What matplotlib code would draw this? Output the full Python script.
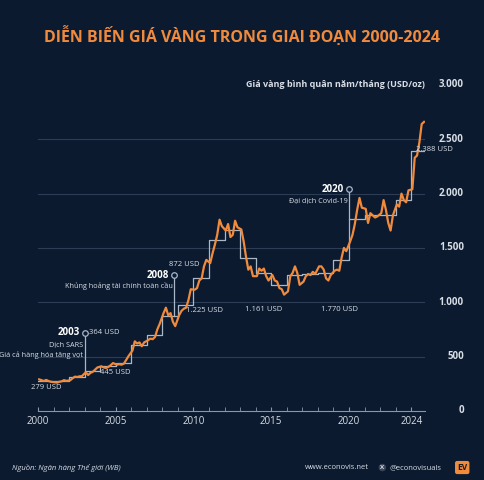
import numpy as np
import matplotlib.pyplot as plt

plt.rcParams['font.family'] = ['Open Sans', 'DejaVu Sans']

BG = '#0b1a2f'
ORANGE = '#f08a3c'
STEP = '#a9b8c8'
TXT = '#d8dee6'

years = list(range(2000, 2025))
annual = [279, 271, 310, 364, 409, 445, 604, 697, 872, 972, 1225, 1572, 1669,
          1411, 1266, 1161, 1251, 1257, 1269, 1393, 1770, 1799, 1800, 1943, 2388]

# approx. bi-monthly prices
monthly = [
    290, 283, 275, 285, 275, 268,
    263, 260, 268, 272, 283, 276,
    282, 300, 315, 312, 318, 320,
    355, 330, 350, 360, 380, 400,
    410, 400, 395, 405, 420, 440,
    425, 430, 425, 435, 470, 505,
    555, 640, 620, 630, 595, 630,
    650, 665, 660, 680, 750, 800,
    900, 950, 880, 900, 820, 780,
    880, 920, 940, 950, 1020, 1120,
    1115, 1130, 1200, 1220, 1330, 1390,
    1360, 1450, 1530, 1620, 1760, 1700,
    1660, 1720, 1600, 1620, 1750, 1690,
    1670, 1560, 1420, 1300, 1330, 1240,
    1240, 1310, 1290, 1310, 1240, 1200,
    1250, 1200, 1190, 1130, 1120, 1070,
    1100, 1240, 1270, 1330, 1270, 1160,
    1190, 1240, 1260, 1250, 1280, 1260,
    1330, 1330, 1300, 1220, 1200, 1250,
    1290, 1300, 1290, 1410, 1500, 1470,
    1560, 1620, 1720, 1850, 1960, 1870,
    1860, 1730, 1820, 1800, 1780, 1790,
    1820, 1940, 1850, 1730, 1660, 1800,
    1900, 1880, 2000, 1940, 1920, 2030,
    2040, 2330, 2350, 2470, 2640, 2660,
]
mx = [y + (i + 0.5) / 6 * 0.9 for y in years for i in range(6)]

fig = plt.figure(figsize=(4.84, 4.8), dpi=100, facecolor=BG)
ax = fig.add_axes([0.0785, 0.144, 0.80, 0.679], facecolor=BG)
ax.set_xlim(2000, 2024.9)
ax.set_ylim(0, 3000)

for v in [500, 1000, 1500, 2000, 2500]:
    ax.axhline(v, color='#2c3d55', lw=0.8, zorder=0)
    ax.text(1.1, v, f'{v:,}'.replace(',', '.'), transform=ax.get_yaxis_transform(),
            ha='right', va='center', color=TXT, fontsize=7, fontweight='bold')
ax.text(1.1, 0, '0', transform=ax.get_yaxis_transform(), ha='right', va='center',
        color=TXT, fontsize=7, fontweight='bold')
ax.text(1.1, 3000, '3.000', transform=ax.get_yaxis_transform(), ha='right', va='center',
        color=TXT, fontsize=7, fontweight='bold')
ax.text(1.0, 3000, 'Giá vàng bình quân năm/tháng (USD/oz)', transform=ax.get_yaxis_transform(),
        ha='right', va='center', color=TXT, fontsize=6.5, fontweight='bold')

sx = years + [2024.9]
sy = annual + [annual[-1]]
ax.step(sx, sy, where='post', color=STEP, lw=0.9, zorder=2)
ax.plot(mx, monthly, color=ORANGE, lw=1.6, zorder=3)

for s in ['top', 'right', 'left']:
    ax.spines[s].set_visible(False)
ax.spines['bottom'].set_color('#8a97a8')
ax.set_yticks([])
ax.set_xticks([2000, 2005, 2010, 2015, 2020, 2024])
ax.set_xticks(range(2000, 2025), minor=True)
ax.tick_params(axis='x', which='both', colors='#8a97a8', length=3, direction='in',
               labelcolor=TXT, labelsize=7)

# event markers
events = [(2003.0, 364, 718, '2003', ['Dịch SARS', 'Giá cả hàng hóa tăng vọt']),
          (2008.75, 872, 1250, '2008', ['Khủng hoảng tài chính toàn cầu']),
          (2020.0, 1770, 2040, '2020', ['Đại dịch Covid-19'])]
for x, base, top, yr, lines in events:
    ax.plot([x, x], [base, top], color=STEP, lw=0.9, zorder=2)
    ax.plot(x, top, 'o', ms=4, mfc=BG, mec=STEP, mew=0.9, zorder=4)
    ax.text(x - 0.3, top, yr, ha='right', va='center', color='white', fontsize=7, fontweight='bold')
    for i, ln in enumerate(lines):
        ax.text(x - 0.08, top - 105 - i * 100, ln, ha='right', va='center', color=TXT, fontsize=5.2)

lab = dict(color=TXT, fontsize=5.5, va='center')
ax.text(2000.5, 215, '279 USD', ha='center', **lab)
ax.text(2003.3, 718, '364 USD', ha='left', **lab)
ax.text(2005, 355, '445 USD', ha='center', **lab)
ax.text(2009.4, 1345, '872 USD', ha='center', **lab)
ax.text(2010.7, 925, '1.225 USD', ha='center', **lab)
ax.text(2014.5, 930, '1.161 USD', ha='center', **lab)
ax.text(2019.4, 930, '1.770 USD', ha='center', **lab)
ax.text(2024.3, 2410, '2.388 USD', ha='left', **lab)

fig.text(0.5, 0.925, 'DIỄN BIẾN GIÁ VÀNG TRONG GIAI ĐOẠN 2000-2024', color=ORANGE,
         fontsize=11.5, fontweight='bold', va='center', ha='center')
fig.text(0.025, 0.026, 'Nguồn: Ngân hàng Thế giới (WB)', color=TXT, fontsize=5.5,
         style='italic', va='center')
fig.text(0.63, 0.026, 'www.econovis.net', color=TXT, fontsize=5.5, va='center')
fig.text(0.79, 0.026, 'X', color=TXT, fontsize=4.5, fontweight='bold', ha='center', va='center',
         bbox=dict(boxstyle='circle,pad=0.2', fc='#3a4658', ec='none'))
fig.text(0.805, 0.026, '@econovisuals', color=TXT, fontsize=5.5, va='center')
fig.text(0.955, 0.026, 'EV', color='#1b1b1b', fontsize=6, fontweight='bold', ha='center', va='center',
         bbox=dict(boxstyle='round,pad=0.25', fc=ORANGE, ec='none'))

fig.savefig('out.png', dpi=100, facecolor=BG)
